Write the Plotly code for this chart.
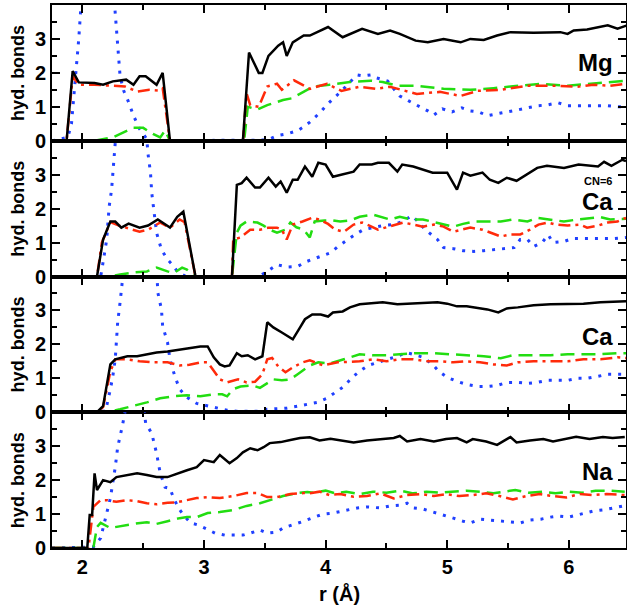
import plotly.graph_objects as go
from plotly.subplots import make_subplots

# ---------------- Mg panel ----------------
mg_total_r = [1.75, 1.87, 1.92, 1.97, 2.10, 2.17, 2.25, 2.31, 2.36, 2.42, 2.47, 2.52, 2.61, 2.66, 2.72, 3.32, 3.37, 3.45, 3.48, 3.53, 3.61, 3.65, 3.68, 3.73, 3.82, 3.87, 3.96, 4.02, 4.14, 4.30, 4.43, 4.53, 4.61, 4.74, 4.84, 4.97, 5.11, 5.19, 5.30, 5.41, 5.52, 5.71, 5.93, 5.99, 6.04, 6.15, 6.32, 6.40, 6.48]
mg_total = [0, 0, 2.05, 1.72, 1.70, 1.65, 1.75, 1.78, 1.80, 1.65, 1.90, 1.90, 1.65, 2.00, 0, 0, 2.60, 2.00, 2.00, 2.50, 2.80, 2.90, 2.50, 2.90, 3.10, 3.10, 3.25, 3.35, 3.05, 3.30, 3.15, 3.25, 3.15, 2.95, 2.90, 3.00, 2.90, 3.00, 2.97, 3.10, 3.20, 3.18, 3.20, 3.15, 3.25, 3.28, 3.40, 3.30, 3.40]
mg_red_r = [1.75, 1.87, 1.92, 1.97, 2.10, 2.25, 2.35, 2.45, 2.55, 2.62, 2.66, 2.72, 3.32, 3.35, 3.38, 3.45, 3.52, 3.60, 3.64, 3.74, 3.87, 4.01, 4.13, 4.28, 4.42, 4.53, 4.75, 4.94, 5.11, 5.25, 5.44, 5.66, 5.87, 6.07, 6.20, 6.34, 6.47]
mg_red = [0, 0, 1.90, 1.65, 1.65, 1.62, 1.60, 1.45, 1.50, 1.48, 1.55, 0, 0, 1.40, 1.05, 1.00, 1.60, 1.68, 1.50, 1.78, 1.53, 1.68, 1.47, 1.59, 1.53, 1.59, 1.38, 1.44, 1.32, 1.47, 1.50, 1.62, 1.62, 1.59, 1.65, 1.62, 1.68]
mg_green_r = [1.75, 2.10, 2.25, 2.42, 2.50, 2.58, 2.64, 2.68, 2.72, 3.33, 3.36, 3.44, 3.52, 3.65, 3.72, 3.82, 3.90, 4.03, 4.20, 4.37, 4.47, 4.59, 4.75, 4.97, 5.19, 5.38, 5.58, 5.77, 5.99, 6.20, 6.47]
mg_green = [0, 0, 0.10, 0.38, 0.38, 0.20, 0.10, 0.30, 0, 0, 1.00, 0.92, 1.05, 1.20, 1.25, 1.45, 1.60, 1.65, 1.73, 1.77, 1.73, 1.62, 1.62, 1.53, 1.50, 1.55, 1.62, 1.68, 1.62, 1.68, 1.77]
mg_blue_r = [1.75, 1.88, 1.91, 1.94, 1.97, 2.00, 2.06, 2.13, 2.20, 2.26, 2.28, 2.29, 2.31, 2.34, 2.38, 2.42, 2.47, 2.54, 3.45, 3.52, 3.60, 3.68, 3.77, 3.82, 3.87, 3.90, 3.96, 4.01, 4.08, 4.14, 4.20, 4.26, 4.31, 4.37, 4.42, 4.51, 4.56, 4.61, 4.68, 4.76, 4.84, 4.89, 4.96, 5.04, 5.12, 5.19, 5.26, 5.33, 5.41, 5.49, 5.58, 5.66, 5.74, 5.83, 5.91, 5.99, 6.15, 6.32, 6.41, 6.47]
mg_blue = [0, 0.10, 0.50, 1.70, 3.00, 4.60, 8.00, 9.50, 7.00, 4.20, 3.45, 2.70, 1.90, 1.47, 1.14, 0.74, 0.35, 0, 0, 0.02, 0.15, 0.20, 0.30, 0.41, 0.55, 0.65, 0.85, 1.06, 1.29, 1.50, 1.73, 1.94, 1.91, 1.94, 1.85, 1.76, 1.53, 1.32, 1.18, 1.03, 0.88, 0.76, 0.94, 0.85, 0.97, 0.88, 0.85, 0.74, 0.79, 0.85, 0.91, 0.97, 1.03, 1.06, 1.12, 1.03, 1.03, 1.03, 1.00, 1.00]

# ---------------- Ca (CN=6) panel ----------------
ca6_total_r = [1.75, 2.12, 2.17, 2.23, 2.27, 2.32, 2.38, 2.47, 2.54, 2.62, 2.72, 2.78, 2.83, 2.89, 2.93, 3.23, 3.27, 3.31, 3.35, 3.42, 3.46, 3.53, 3.59, 3.63, 3.68, 3.73, 3.77, 3.83, 3.89, 3.94, 4.00, 4.06, 4.23, 4.28, 4.38, 4.43, 4.52, 4.59, 4.63, 4.72, 4.81, 4.88, 5.00, 5.08, 5.13, 5.19, 5.29, 5.35, 5.42, 5.49, 5.57, 5.68, 5.74, 5.82, 5.89, 5.96, 6.08, 6.24, 6.29, 6.35, 6.44, 6.47]
ca6_total = [0, 0, 1.09, 1.62, 1.62, 1.44, 1.56, 1.44, 1.50, 1.68, 1.44, 1.76, 1.91, 0.79, 0, 0, 2.70, 2.75, 2.91, 2.62, 2.62, 2.91, 2.65, 2.80, 2.47, 2.85, 2.85, 3.24, 2.94, 3.35, 3.30, 2.94, 3.09, 3.30, 3.30, 3.35, 3.35, 3.09, 3.30, 3.24, 3.15, 3.06, 3.06, 2.56, 3.06, 2.97, 3.06, 2.85, 2.76, 2.91, 2.82, 3.06, 3.20, 3.26, 3.24, 3.20, 3.30, 3.24, 3.38, 3.26, 3.44, 3.40]
ca6_red_r = [1.75, 2.12, 2.16, 2.23, 2.30, 2.42, 2.47, 2.54, 2.64, 2.72, 2.80, 2.84, 2.93, 3.23, 3.24, 3.30, 3.38, 3.46, 3.53, 3.60, 3.64, 3.68, 3.73, 3.81, 3.89, 3.95, 4.02, 4.08, 4.15, 4.23, 4.30, 4.36, 4.43, 4.50, 4.57, 4.64, 4.72, 4.80, 4.89, 4.97, 5.05, 5.12, 5.19, 5.29, 5.36, 5.44, 5.52, 5.60, 5.68, 5.75, 5.83, 5.89, 5.99, 6.09, 6.15, 6.24, 6.32, 6.40, 6.47]
ca6_red = [0, 0, 1.00, 1.60, 1.50, 1.38, 1.32, 1.38, 1.59, 1.44, 1.68, 1.60, 0, 0, 1.09, 1.15, 1.38, 1.38, 1.44, 1.44, 1.38, 1.09, 1.53, 1.62, 1.73, 1.68, 1.55, 1.38, 1.32, 1.53, 1.59, 1.50, 1.38, 1.45, 1.53, 1.59, 1.53, 1.47, 1.53, 1.47, 1.32, 1.38, 1.44, 1.38, 1.29, 1.18, 1.24, 1.24, 1.38, 1.53, 1.59, 1.53, 1.50, 1.53, 1.44, 1.50, 1.59, 1.62, 1.73]
ca6_green_r = [1.75, 2.23, 2.31, 2.42, 2.53, 2.61, 2.70, 2.75, 2.82, 2.86, 2.93, 3.23, 3.27, 3.30, 3.35, 3.44, 3.49, 3.54, 3.60, 3.67, 3.71, 3.76, 3.82, 3.87, 3.91, 3.99, 4.06, 4.12, 4.20, 4.28, 4.39, 4.46, 4.53, 4.61, 4.70, 4.80, 4.92, 5.05, 5.13, 5.22, 5.33, 5.44, 5.54, 5.66, 5.74, 5.85, 5.96, 6.07, 6.18, 6.26, 6.34, 6.47]
ca6_green = [0, 0, 0.06, 0.12, 0.15, 0.26, 0.15, 0.10, 0.26, 0.20, 0, 0, 1.29, 1.50, 1.62, 1.59, 1.50, 1.38, 1.29, 1.38, 1.59, 1.45, 1.38, 1.15, 1.62, 1.65, 1.65, 1.62, 1.65, 1.76, 1.82, 1.76, 1.68, 1.76, 1.68, 1.68, 1.59, 1.47, 1.55, 1.62, 1.62, 1.62, 1.68, 1.62, 1.73, 1.68, 1.62, 1.68, 1.73, 1.75, 1.68, 1.70]
ca6_blue_r = [1.75, 2.15, 2.16, 2.18, 2.20, 2.21, 2.22, 2.24, 2.25, 2.27, 2.30, 2.38, 2.46, 2.52, 2.54, 2.56, 2.57, 2.59, 2.61, 2.65, 2.70, 2.74, 2.78, 2.85, 3.45, 3.52, 3.60, 3.68, 3.77, 3.85, 3.93, 4.04, 4.10, 4.18, 4.24, 4.31, 4.39, 4.47, 4.56, 4.63, 4.71, 4.76, 4.82, 4.92, 4.97, 5.05, 5.13, 5.22, 5.30, 5.38, 5.46, 5.55, 5.60, 5.66, 5.71, 5.78, 5.83, 5.87, 5.96, 6.03, 6.12, 6.37, 6.47]
ca6_blue = [0, 0, 0.20, 0.70, 1.09, 1.59, 2.06, 2.56, 3.06, 3.80, 6.00, 9.00, 7.00, 4.50, 3.60, 3.06, 2.47, 1.88, 1.29, 0.79, 0.50, 0.35, 0.15, 0, 0, 0.15, 0.35, 0.28, 0.30, 0.45, 0.55, 0.70, 0.88, 1.09, 1.23, 1.38, 1.44, 1.50, 1.53, 1.62, 1.79, 1.62, 1.38, 1.09, 0.85, 0.82, 0.76, 0.74, 0.76, 0.79, 0.82, 0.85, 1.09, 1.09, 0.88, 1.00, 1.23, 1.00, 1.03, 1.12, 1.12, 1.12, 1.15]

# ---------------- Ca panel ----------------
ca_total_r = [1.75, 2.12, 2.17, 2.23, 2.27, 2.37, 2.45, 2.53, 2.61, 2.70, 2.75, 2.82, 2.88, 2.97, 3.03, 3.08, 3.13, 3.17, 3.21, 3.27, 3.31, 3.36, 3.42, 3.48, 3.52, 3.57, 3.64, 3.73, 3.79, 3.83, 3.89, 3.96, 4.02, 4.06, 4.14, 4.20, 4.28, 4.35, 4.47, 4.59, 4.70, 4.84, 4.92, 5.00, 5.08, 5.16, 5.27, 5.33, 5.42, 5.49, 5.58, 5.71, 5.85, 5.99, 6.12, 6.26, 6.40, 6.47]
ca_total = [0, 0, 0.18, 1.41, 1.56, 1.65, 1.65, 1.71, 1.76, 1.79, 1.82, 1.85, 1.88, 1.94, 1.94, 1.62, 1.41, 1.35, 1.38, 1.74, 1.65, 1.68, 1.56, 1.65, 2.65, 2.50, 2.35, 2.15, 2.50, 2.74, 2.88, 2.88, 2.82, 2.94, 2.97, 3.09, 3.18, 3.20, 3.24, 3.18, 3.20, 3.24, 3.24, 3.20, 3.12, 3.12, 3.06, 3.03, 2.94, 3.06, 3.09, 3.15, 3.18, 3.18, 3.20, 3.24, 3.26, 3.27]
ca_red_r = [1.75, 2.12, 2.17, 2.23, 2.27, 2.37, 2.47, 2.58, 2.70, 2.80, 2.88, 2.97, 3.03, 3.08, 3.13, 3.19, 3.24, 3.28, 3.35, 3.42, 3.48, 3.52, 3.56, 3.61, 3.67, 3.73, 3.81, 3.87, 3.98, 4.10, 4.28, 4.39, 4.50, 4.61, 4.72, 4.84, 4.95, 5.05, 5.16, 5.27, 5.38, 5.49, 5.58, 5.71, 5.85, 5.99, 6.12, 6.26, 6.40, 6.47]
ca_red = [0, 0, 0.15, 1.20, 1.56, 1.56, 1.50, 1.47, 1.47, 1.38, 1.40, 1.47, 1.47, 1.21, 0.97, 0.88, 0.94, 0.97, 0.88, 0.90, 1.12, 1.56, 1.60, 1.35, 1.18, 1.32, 1.47, 1.53, 1.38, 1.47, 1.50, 1.56, 1.50, 1.56, 1.56, 1.50, 1.50, 1.47, 1.50, 1.47, 1.41, 1.38, 1.47, 1.50, 1.50, 1.50, 1.56, 1.56, 1.62, 1.60]
ca_green_r = [1.75, 2.20, 2.31, 2.42, 2.53, 2.64, 2.75, 2.86, 2.97, 3.08, 3.15, 3.19, 3.24, 3.30, 3.40, 3.46, 3.52, 3.57, 3.64, 3.71, 3.77, 3.82, 3.87, 3.94, 4.04, 4.15, 4.28, 4.39, 4.50, 4.61, 4.75, 4.89, 5.02, 5.16, 5.30, 5.44, 5.54, 5.70, 5.85, 5.99, 6.12, 6.26, 6.40, 6.47]
ca_green = [0, 0, 0.09, 0.18, 0.29, 0.41, 0.47, 0.50, 0.47, 0.53, 0.53, 0.47, 0.68, 0.76, 0.79, 0.72, 0.85, 0.97, 0.94, 0.97, 1.12, 1.26, 1.38, 1.47, 1.44, 1.56, 1.71, 1.68, 1.68, 1.71, 1.74, 1.74, 1.72, 1.68, 1.65, 1.59, 1.68, 1.68, 1.68, 1.71, 1.71, 1.71, 1.74, 1.74]
ca_blue_r = [1.75, 2.19, 2.23, 2.25, 2.27, 2.28, 2.29, 2.31, 2.32, 2.36, 2.45, 2.55, 2.61, 2.62, 2.65, 2.66, 2.70, 2.72, 2.76, 2.80, 2.86, 2.94, 3.03, 3.11, 3.19, 3.27, 3.35, 3.44, 3.52, 3.60, 3.68, 3.77, 3.85, 3.93, 4.01, 4.08, 4.15, 4.22, 4.28, 4.35, 4.43, 4.51, 4.59, 4.66, 4.72, 4.80, 4.88, 4.93, 5.00, 5.08, 5.16, 5.25, 5.33, 5.41, 5.49, 5.58, 5.66, 5.74, 5.82, 5.91, 5.99, 6.07, 6.15, 6.24, 6.32, 6.40, 6.47]
ca_blue = [0, 0.03, 0.68, 1.06, 1.56, 2.15, 2.65, 3.24, 3.70, 5.50, 8.00, 6.00, 4.30, 3.53, 3.03, 2.53, 2.06, 1.56, 1.06, 0.68, 0.44, 0.26, 0.18, 0.12, 0.06, 0.03, 0.03, 0.03, 0.09, 0.10, 0.12, 0.18, 0.24, 0.29, 0.41, 0.59, 0.76, 1.03, 1.21, 1.38, 1.47, 1.56, 1.65, 1.76, 1.71, 1.62, 1.41, 1.21, 1.03, 0.91, 0.82, 0.76, 0.76, 0.79, 0.88, 0.88, 0.85, 0.88, 0.94, 0.94, 0.94, 1.00, 1.00, 1.06, 1.12, 1.12, 1.12]

# ---------------- Na panel ----------------
na_total_r = [1.75, 2.04, 2.06, 2.08, 2.10, 2.12, 2.17, 2.23, 2.28, 2.37, 2.45, 2.53, 2.61, 2.70, 2.78, 2.86, 2.94, 3.00, 3.08, 3.13, 3.21, 3.27, 3.32, 3.38, 3.44, 3.49, 3.54, 3.63, 3.71, 3.79, 3.87, 3.95, 4.04, 4.12, 4.23, 4.34, 4.45, 4.56, 4.61, 4.67, 4.78, 4.89, 4.99, 5.08, 5.16, 5.21, 5.32, 5.41, 5.52, 5.57, 5.68, 5.79, 5.87, 5.98, 6.06, 6.17, 6.28, 6.36, 6.46]
na_total = [0, 0, 0.97, 0.97, 2.20, 1.71, 2.00, 1.94, 2.09, 2.15, 2.20, 2.15, 2.09, 2.09, 2.20, 2.29, 2.38, 2.59, 2.53, 2.74, 2.50, 2.65, 2.82, 2.94, 2.88, 2.97, 3.09, 3.12, 3.18, 3.24, 3.26, 3.17, 3.22, 3.17, 3.11, 3.17, 3.21, 3.24, 3.30, 3.14, 3.21, 3.14, 3.21, 3.24, 3.11, 3.21, 3.14, 3.04, 3.27, 3.11, 3.17, 3.21, 3.14, 3.21, 3.28, 3.21, 3.27, 3.24, 3.27]
na_red_r = [1.75, 2.05, 2.09, 2.15, 2.20, 2.28, 2.37, 2.45, 2.53, 2.61, 2.70, 2.78, 2.86, 2.94, 3.03, 3.13, 3.24, 3.35, 3.44, 3.52, 3.60, 3.71, 3.82, 3.87, 3.95, 4.03, 4.12, 4.23, 4.34, 4.45, 4.56, 4.67, 4.78, 4.89, 4.99, 5.10, 5.21, 5.32, 5.43, 5.54, 5.65, 5.76, 5.87, 5.98, 6.09, 6.20, 6.31, 6.46]
na_red = [0, 0, 1.21, 1.41, 1.41, 1.36, 1.41, 1.38, 1.32, 1.29, 1.33, 1.35, 1.41, 1.47, 1.50, 1.47, 1.53, 1.62, 1.62, 1.50, 1.50, 1.59, 1.62, 1.61, 1.66, 1.56, 1.59, 1.51, 1.53, 1.61, 1.46, 1.56, 1.59, 1.53, 1.59, 1.53, 1.56, 1.61, 1.53, 1.43, 1.53, 1.59, 1.53, 1.49, 1.59, 1.56, 1.59, 1.56]
na_green_r = [1.75, 2.09, 2.12, 2.15, 2.23, 2.31, 2.42, 2.53, 2.61, 2.70, 2.80, 2.86, 2.94, 3.03, 3.13, 3.24, 3.35, 3.46, 3.54, 3.65, 3.77, 3.85, 3.90, 4.00, 4.08, 4.17, 4.28, 4.39, 4.50, 4.61, 4.72, 4.83, 4.94, 5.05, 5.16, 5.27, 5.38, 5.47, 5.56, 5.67, 5.78, 5.89, 6.00, 6.11, 6.22, 6.33, 6.46]
na_green = [0, 0, 0.62, 0.74, 0.59, 0.65, 0.71, 0.76, 0.71, 0.79, 0.88, 0.91, 0.91, 1.03, 1.06, 1.12, 1.24, 1.32, 1.41, 1.53, 1.62, 1.65, 1.63, 1.69, 1.61, 1.66, 1.59, 1.66, 1.63, 1.69, 1.61, 1.66, 1.63, 1.66, 1.69, 1.66, 1.61, 1.66, 1.71, 1.63, 1.66, 1.61, 1.66, 1.63, 1.69, 1.69, 1.66]
na_blue_r = [1.75, 2.09, 2.15, 2.19, 2.23, 2.27, 2.29, 2.33, 2.38, 2.44, 2.50, 2.52, 2.57, 2.61, 2.64, 2.68, 2.72, 2.75, 2.79, 2.83, 2.89, 2.95, 3.03, 3.09, 3.17, 3.26, 3.32, 3.38, 3.46, 3.52, 3.60, 3.65, 3.73, 3.82, 3.90, 3.98, 4.06, 4.18, 4.26, 4.34, 4.45, 4.53, 4.61, 4.67, 4.72, 4.80, 4.89, 4.97, 5.05, 5.13, 5.19, 5.27, 5.35, 5.44, 5.52, 5.60, 5.68, 5.77, 5.85, 5.91, 6.00, 6.07, 6.15, 6.20, 6.28, 6.37, 6.45]
na_blue = [0, 0.03, 0.29, 0.88, 1.47, 2.38, 2.97, 3.62, 4.60, 5.00, 4.30, 3.68, 3.38, 2.79, 2.20, 1.79, 1.76, 1.47, 1.18, 0.97, 0.74, 0.68, 0.53, 0.44, 0.38, 0.38, 0.38, 0.44, 0.53, 0.44, 0.47, 0.59, 0.68, 0.79, 0.90, 1.00, 1.03, 1.12, 1.18, 1.21, 1.18, 1.24, 1.26, 1.32, 1.18, 1.15, 1.06, 0.97, 0.88, 0.79, 0.74, 0.85, 0.82, 0.79, 0.76, 0.74, 0.82, 0.85, 0.91, 0.94, 0.91, 0.97, 1.03, 1.09, 1.12, 1.18, 1.24]

panel_labels = ["Mg", "Ca", "Ca", "Na"]
y_tick_vals = [0, 1, 2, 3]
x_tick_vals = [2, 3, 4, 5, 6]

FONT = "Liberation Sans, Arial, Helvetica, sans-serif"
BLACK = "#000000"
RED = "#ff2a0a"
GREEN = "#22dd11"
BLUE = "#2040ff"

panels = [
    (mg_total_r, mg_total, mg_red_r, mg_red, mg_green_r, mg_green, mg_blue_r, mg_blue),
    (ca6_total_r, ca6_total, ca6_red_r, ca6_red, ca6_green_r, ca6_green, ca6_blue_r, ca6_blue),
    (ca_total_r, ca_total, ca_red_r, ca_red, ca_green_r, ca_green, ca_blue_r, ca_blue),
    (na_total_r, na_total, na_red_r, na_red, na_green_r, na_green, na_blue_r, na_blue),
]

fig = make_subplots(rows=4, cols=1, shared_xaxes=True, vertical_spacing=0)

for i, (tr, tv, rr, rv, gr, gv, br, bv) in enumerate(panels, start=1):
    fig.add_trace(go.Scatter(x=br, y=bv, mode="lines", showlegend=False, hoverinfo="skip",
                             line=dict(color=BLUE, width=3, dash="3px,7px")), row=i, col=1)
    fig.add_trace(go.Scatter(x=gr, y=gv, mode="lines", showlegend=False, hoverinfo="skip",
                             line=dict(color=GREEN, width=2.5, dash="14px,7px")), row=i, col=1)
    fig.add_trace(go.Scatter(x=rr, y=rv, mode="lines", showlegend=False, hoverinfo="skip",
                             line=dict(color=RED, width=2.5, dash="12px,5px,3px,5px")), row=i, col=1)
    fig.add_trace(go.Scatter(x=tr, y=tv, mode="lines", showlegend=False, hoverinfo="skip",
                             line=dict(color=BLACK, width=2.5)), row=i, col=1)

fig.update_xaxes(range=[1.75, 6.47], tickvals=x_tick_vals, ticks="inside", ticklen=8, tickwidth=2,
                 tickcolor="black", showline=True, linewidth=2, linecolor="black", mirror="ticks",
                 showgrid=False, zeroline=False, automargin=False,
                 minor=dict(dtick=0.5, tick0=0, ticks="inside", ticklen=5, tickwidth=2, tickcolor="black"),
                 tickfont=dict(family=FONT, size=20, color="black", weight="bold"))
fig.update_yaxes(range=[0, 4.0], tickvals=y_tick_vals, ticks="inside", ticklen=8, tickwidth=2,
                 tickcolor="black", showline=True, linewidth=2, linecolor="black", mirror="ticks",
                 showgrid=False, zeroline=False, automargin=False,
                 minor=dict(dtick=0.5, tick0=0, ticks="inside", ticklen=5, tickwidth=2, tickcolor="black"),
                 tickfont=dict(family=FONT, size=20, color="black", weight="bold"))

annotations = []
# y titles
for i in range(4):
    yc = 1 - (i + 0.5) / 4
    annotations.append(dict(text="hyd. bonds", xref="paper", yref="paper", x=0, y=yc,
                            xanchor="center", yanchor="middle", xshift=-34, textangle=-90,
                            showarrow=False, font=dict(family=FONT, size=18, color="black", weight="bold")))
# x title
annotations.append(dict(text="r (Å)", xref="paper", yref="paper", x=0.5, y=0, xanchor="center",
                        yanchor="middle", yshift=-45, showarrow=False,
                        font=dict(family=FONT, size=20, color="black", weight="bold")))
# panel labels
label_y = [0.895, 0.639, 0.390, 0.140]
for lab, yy in zip(panel_labels, label_y):
    annotations.append(dict(text=lab, xref="paper", yref="paper", x=0.981, y=yy, xanchor="right",
                            yanchor="middle", showarrow=False,
                            font=dict(family=FONT, size=24, color="black", weight="bold")))
annotations.append(dict(text="CN=6", xref="paper", yref="paper", x=0.979, y=0.676, xanchor="right",
                        yanchor="middle", showarrow=False,
                        font=dict(family=FONT, size=11, color="black", weight="bold")))

fig.update_layout(width=627, height=607, margin=dict(l=52, r=1, t=5, b=59, autoexpand=False),
                  plot_bgcolor="white", paper_bgcolor="white", annotations=annotations,
                  hovermode=False, font=dict(family=FONT, color="black"))

fig.write_html("out.html", config={"displayModeBar": False, "staticPlot": True},
               post_script="document.body.style.margin='0px';document.body.style.overflow='hidden';")
